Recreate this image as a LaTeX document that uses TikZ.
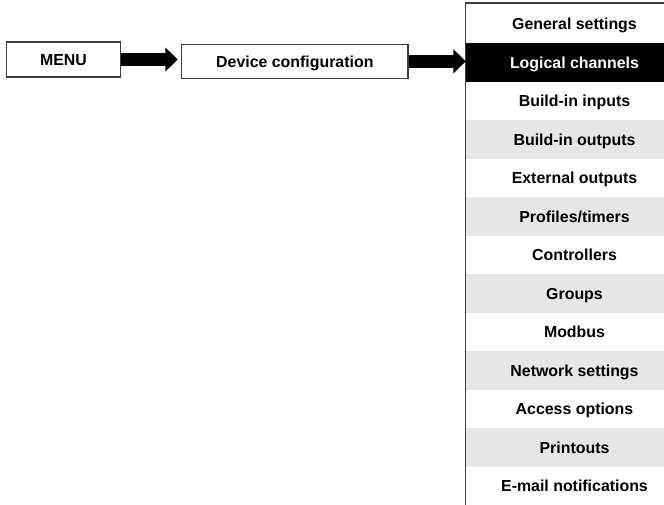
\documentclass[tikz,border=0pt]{standalone}
\usepackage{fontspec}
\setmainfont{Liberation Sans}
\usetikzlibrary{arrows.meta}
\definecolor{rowgray}{HTML}{E6E6E6}
\definecolor{framegray}{HTML}{3C3C3C}
\begin{document}
\begin{tikzpicture}[x=1pt,y=-1pt,
  labelfont/.style={font=\fontsize{15.9}{19}\selectfont\bfseries, text height=11.4pt, text depth=0pt},
  box/.style={labelfont, draw=framegray, line width=1.1pt, inner sep=0pt},
  menurow/.style={labelfont, inner sep=0pt, minimum width=217pt, minimum height=38.5pt},
  bigarrow/.style={line width=13pt, -{Triangle[width=23.5pt,length=12.5pt]}}]
\fill[white] (0,0) rectangle (664,504);
\useasboundingbox (0,0) rectangle (664,504);

% left boxes
\node[box, minimum width=114pt, minimum height=35pt] (menu) at (63.5,59.5) {MENU};
\node[box, minimum width=226.3pt, minimum height=34pt] (dev) at (294.85,61.3) {Device configuration};

% menu column rows
\foreach \t/\f/\c [count=\i from 0] in {
  General settings/white/black,
  Logical channels/black/white,
  Build-in inputs/white/black,
  Build-in outputs/rowgray/black,
  External outputs/white/black,
  Profiles\slash timers/rowgray/black,
  Controllers/white/black,
  Groups/rowgray/black,
  Modbus/white/black,
  Network settings/rowgray/black,
  Access options/white/black,
  Printouts/rowgray/black,
  E-mail notifications/white/black}
  \node[menurow, fill=\f, text=\c] (r\i) at (574.5,{24.05+38.5*\i}) {\t};

% column frame (top and left edges)
\draw[framegray, line width=1.1pt] (690,3) -- (465.5,3) -- (465.5,510);

% arrows
\draw[bigarrow, shorten >=3.4pt] (menu.east) -- (dev.west |- menu.east);
\draw[bigarrow] (dev.east) -- (dev.east -| r1.west);
\end{tikzpicture}
\end{document}
